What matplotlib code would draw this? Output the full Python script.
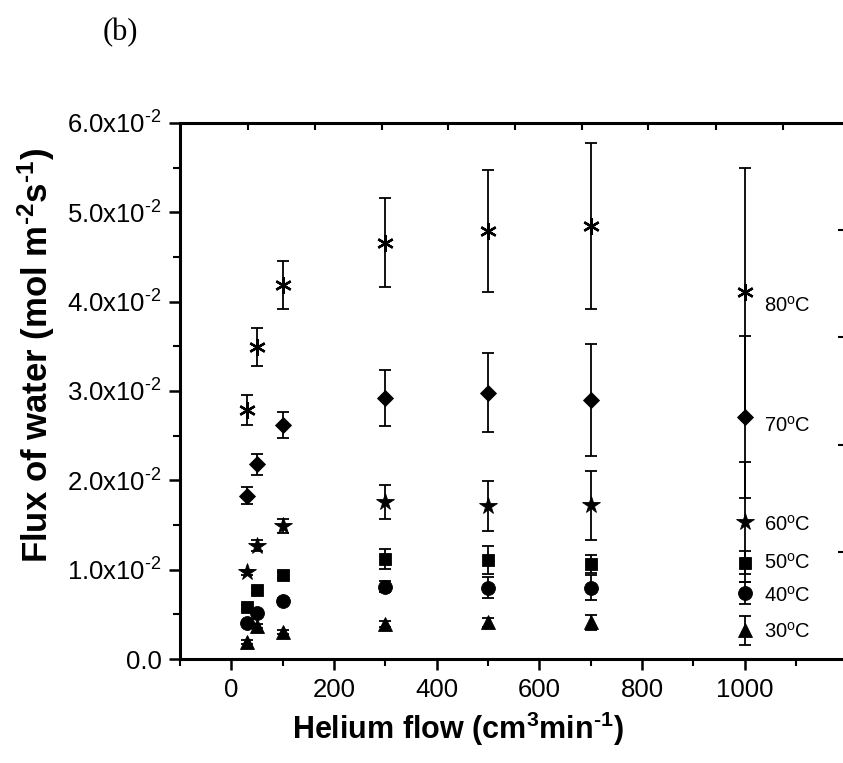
import numpy as np
import matplotlib
matplotlib.use('Agg')
import matplotlib.pyplot as plt
from matplotlib.ticker import FuncFormatter, MultipleLocator

plt.rcParams['font.family'] = 'Liberation Sans'
plt.rcParams['mathtext.default'] = 'regular'

# helium flow, cm3/min
flow = [30, 50, 100, 300, 500, 700, 1000]

# water flux (x1e-2 mol m-2 s-1) and standard deviations per temperature
flux_80 = [2.79, 3.49, 4.19, 4.66, 4.79, 4.85, 4.11]
err_80 = [0.17, 0.21, 0.27, 0.50, 0.68, 0.93, 1.39]
flux_70 = [1.83, 2.18, 2.62, 2.92, 2.98, 2.90, 2.71]
err_70 = [0.10, 0.12, 0.15, 0.31, 0.44, 0.63, 0.91]
flux_60 = [0.97, 1.27, 1.49, 1.76, 1.71, 1.72, 1.53]
err_60 = [0.03, 0.06, 0.08, 0.19, 0.28, 0.39, 0.67]
flux_50 = [0.58, 0.77, 0.94, 1.12, 1.11, 1.06, 1.08]
err_50 = [0.02, 0.03, 0.03, 0.11, 0.16, 0.10, 0.13]
flux_40 = [0.40, 0.51, 0.65, 0.81, 0.80, 0.80, 0.74]
err_40 = [0.02, 0.02, 0.03, 0.06, 0.12, 0.14, 0.12]
flux_30 = [0.19, 0.37, 0.30, 0.39, 0.41, 0.41, 0.32]
err_30 = [0.02, 0.02, 0.02, 0.03, 0.05, 0.08, 0.16]

temps = ['80', '70', '60', '50', '40', '30']
series = [(flux_80, err_80, (6, 2, 0), 12),
          (flux_70, err_70, 'D', 8.5),
          (flux_60, err_60, '*', 13),
          (flux_50, err_50, 's', 9),
          (flux_40, err_40, 'o', 10),
          (flux_30, err_30, '^', 10.5)]
label_dy = [-10, -6, -2, 0, -2, -1]

HY = '\u2010'  # short hyphen in superscripts

fig = plt.figure(figsize=(8.43, 7.63), dpi=100)
ax = fig.add_axes([0.2135, 0.1363, 0.7888, 0.7025])

for (y, e, m, ms), t, dy in zip(series, temps, label_dy):
    y = np.array(y) * 1e-2
    e = np.array(e) * 1e-2
    ax.errorbar(flow, y, yerr=e, fmt='none', ecolor='black', elinewidth=1.3,
                capsize=4.5, capthick=1.3, zorder=2)
    ax.plot(flow, y, linestyle='none', marker=m, markersize=ms, color='black',
            markeredgewidth=1.7 if m == (6, 2, 0) else 0.6, zorder=3)
    ax.annotate(t + '$^{o}$C', xy=(flow[-1], y[-1]), xytext=(14, dy),
                textcoords='offset points', ha='left', va='center', fontsize=14.5)

ax.set_xlim(-100, 1195)
ax.set_ylim(0, 0.06)

ax.xaxis.set_major_locator(MultipleLocator(200))
ax.xaxis.set_minor_locator(MultipleLocator(100))
ax.yaxis.set_major_locator(MultipleLocator(0.01))
ax.yaxis.set_minor_locator(MultipleLocator(0.005))


def sci_fmt(v, pos):
    if abs(v) < 1e-9:
        return '0.0'
    return '%.1fx10$^{%s2}$' % (v * 100, HY)


ax.yaxis.set_major_formatter(FuncFormatter(sci_fmt))

for side in ['left', 'bottom', 'top']:
    ax.spines[side].set_linewidth(2.2)
ax.spines['right'].set_visible(False)

ax.tick_params(axis='both', which='major', direction='out', length=8, width=1.8,
               labelsize=18.5, pad=5)
ax.tick_params(axis='both', which='minor', direction='out', length=5, width=1.5)
ax.tick_params(axis='x', which='major', pad=6)

# separate top and right scales from the original plotting software
top_ticks = [33, 163, 294, 422, 553, 683, 811, 944, 1074]
top = ax.secondary_xaxis('top')
top.set_xticks(top_ticks)
top.tick_params(direction='in', length=5, width=1.5, labeltop=False)
top.spines['top'].set_visible(False)

right_ticks = [0.012, 0.024, 0.036, 0.048]
right = ax.secondary_yaxis('right')
right.set_yticks(right_ticks)
right.tick_params(direction='in', length=5, width=1.5, labelright=False)
right.spines['right'].set_visible(False)

ax.set_xlabel('Helium flow (cm$^{3}$min$^{%s1}$)' % HY, fontsize=22,
              fontweight='bold', labelpad=14)
ax.xaxis.set_label_coords(0.418, -0.095)
ax.set_ylabel('Flux of water (mol m$^{%s2}$s$^{%s1}$)' % (HY, HY), fontsize=25,
              fontweight='bold')
ax.yaxis.set_label_coords(-0.185, 0.567)

fig.text(0.143, 0.957, '(b)', family='Liberation Serif', fontsize=22,
         ha='center', va='center')

fig.savefig('out.png', dpi=100)
